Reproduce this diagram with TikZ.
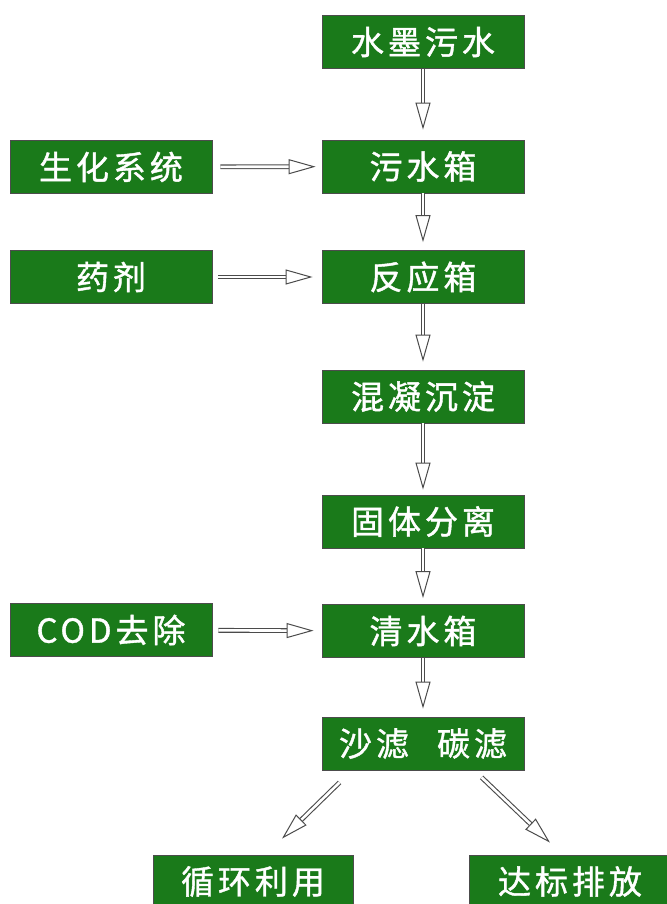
\documentclass[tikz,border=0pt]{standalone}
\usepackage{fontspec}
\newfontfamily\cjk[LetterSpace=12,FakeBold=1.2]{Noto Sans CJK SC}
\usetikzlibrary{arrows.meta,calc}
\definecolor{boxgreen}{RGB}{26,122,26}
\definecolor{arrowgray}{RGB}{75,75,75}
\tikzset{
  box/.style={draw=black!70, line width=0.8pt, fill=boxgreen, text=white,
    minimum width=202pt, minimum height=53pt, inner sep=0pt,
    font=\cjk\fontsize{33}{33}\selectfont},
  flow/.style={draw=arrowgray, double=white, double distance=2.6pt, line width=1.1pt,
    -{Triangle[open, length=27pt, width=15pt, line width=1pt, fill=white]}}
}
\begin{document}
\begin{tikzpicture}[x=1pt,y=-1pt]
\useasboundingbox (0,0) rectangle (666,904);
\node[box] (ink) at (423,42) {水墨污水};
\node[box] (wtank) at (423,166.5) {污水箱};
\node[box] (rtank) at (423,277) {反应箱};
\node[box] (coag) at (423,396.5) {混凝沉淀};
\node[box] (solid) at (423,521.5) {固体分离};
\node[box] (clear) at (423,631) {清水箱};
\node[box] (sand) at (423,743.5) {沙滤\hspace{0.85em}碳滤};
\node[box] (bio) at (111,167) {生化系统};
\node[box] (agent) at (111,277) {药剂};
\node[box] (cod) at (111,630) {COD去除};
\node[box, minimum width=200pt] (reuse) at (253,881.5) {循环利用};
\node[box] (emit) at (570,881.5) {达标排放};

\draw[flow, shorten >=10pt] (ink) -- (wtank);
\draw[flow, shorten >=8pt] (wtank) -- (rtank);
\draw[flow, shorten >=8pt] (rtank) -- (coag);
\draw[flow, shorten >=5pt] (coag) -- (solid);
\draw[flow, shorten >=6pt] (solid) -- (clear);
\draw[flow, shorten >=8pt] (clear) -- (sand);
\draw[flow, shorten <=8pt, shorten >=6pt] (bio) -- (wtank);
\draw[flow, shorten <=6pt, shorten >=9pt] (agent) -- (rtank);
\draw[flow, shorten <=6pt, shorten >=8pt] (cod) -- (clear);
\coordinate (ls) at ($(sand.south west)+(18,12)$);
\coordinate (le) at ($(reuse.north)+(29,-16)$);
\coordinate (rs) at ($(sand.south west)+(160,7)$);
\coordinate (re) at ($(emit.north)+(-20,-12)$);
\draw[flow] (ls) -- (le);
\draw[flow] (rs) -- (re);
\end{tikzpicture}
\end{document}
